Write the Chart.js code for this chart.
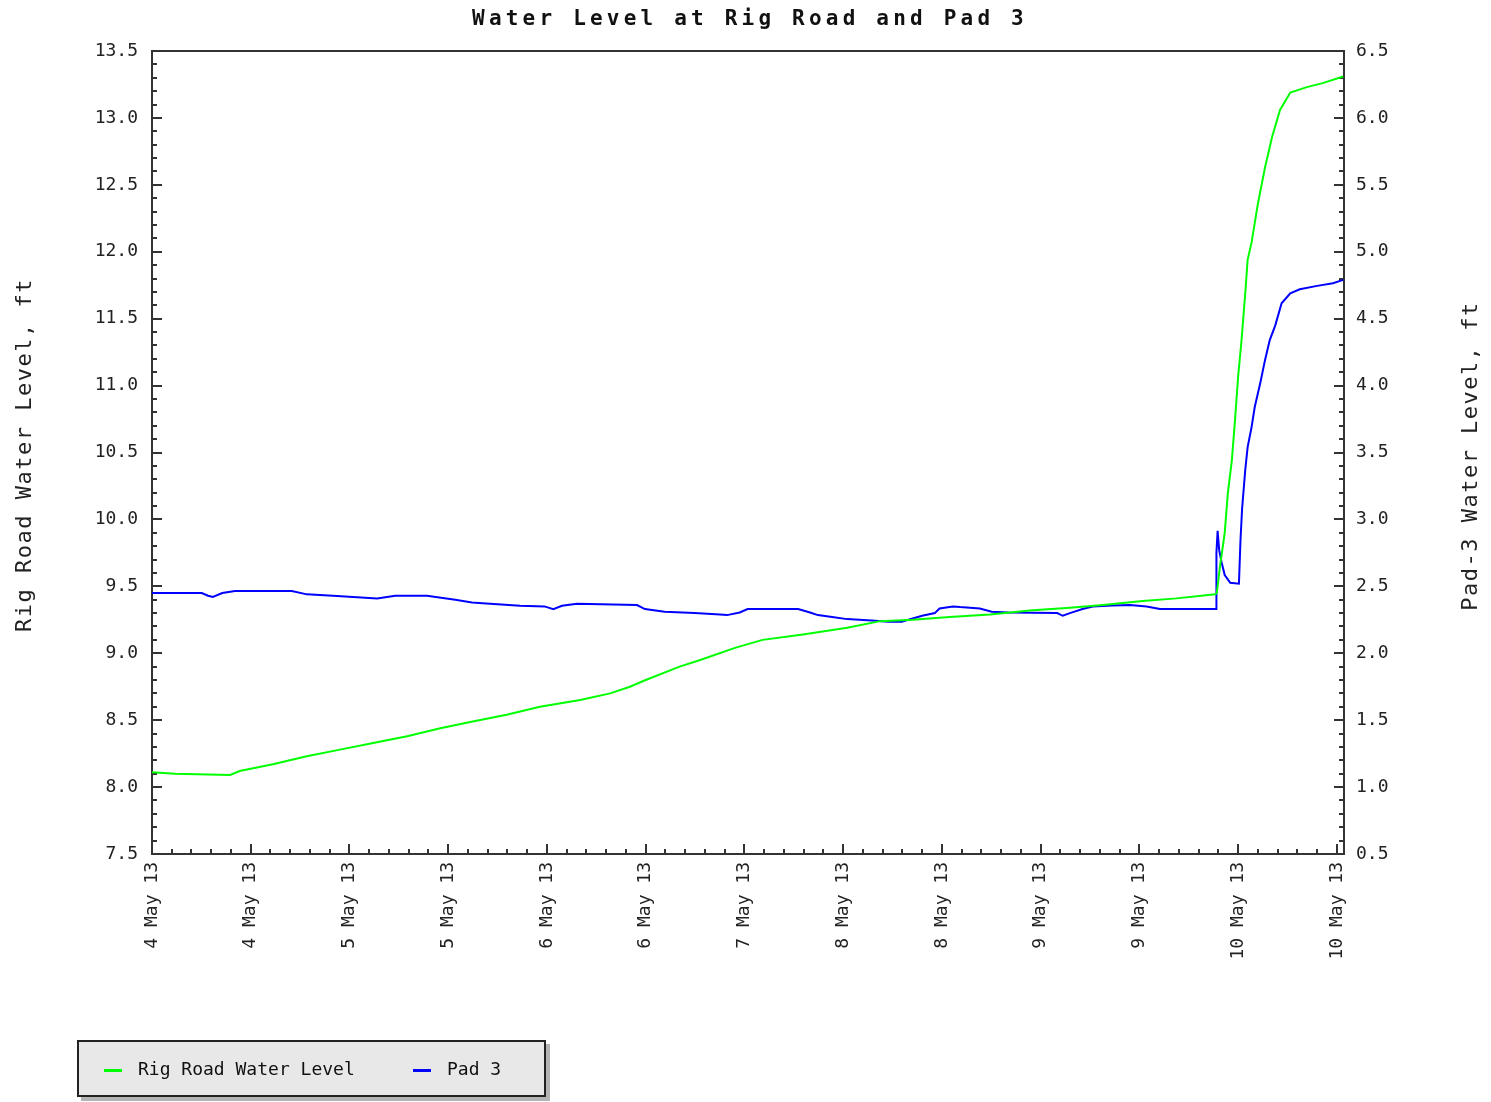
<!DOCTYPE html>
<html>
<head>
<meta charset="utf-8">
<title>Water Level at Rig Road and Pad 3</title>
<script src="https://cdn.jsdelivr.net/npm/chart.js@4.4.1/dist/chart.umd.min.js"></script>
<style>
body { margin: 0; background: #fff; }
#wrap { position: relative; width: 1491px; height: 1102px; }
#legend { position: absolute; left: 77px; top: 1040px; width: 465px; height: 53px; background: #e8e8e8;
  border: 2px solid #222; box-shadow: 4px 4px 0 #b4b4b4; font: 18px 'DejaVu Sans Mono', monospace; color: #111; }
#legend .item { position: absolute; top: 0; height: 53px; line-height: 53px; white-space: nowrap; }
#legend .sw { display: inline-block; width: 18px; height: 3px; vertical-align: middle; margin-right: 16px; }
</style>
</head>
<body>
<div id="wrap">
  <canvas id="chart" width="1491" height="1102"></canvas>
  <div id="legend"></div>
</div>
<script>
// hours after 4 May 13, 09:00
var tickHours = [0, 12.5, 25, 37.5, 50, 62.5, 75, 87.5, 100, 112.5, 125, 137.5, 150];
var tickLabels = ['4 May 13', '4 May 13', '5 May 13', '5 May 13', '6 May 13', '6 May 13', '7 May 13',
                  '8 May 13', '8 May 13', '9 May 13', '9 May 13', '10 May 13', '10 May 13'];

var chartTitle = 'Water Level at Rig Road and Pad 3';
var leftTitle = 'Rig Road Water Level, ft';
var rightTitle = 'Pad-3 Water Level, ft';
var seriesNames = ['Rig Road Water Level', 'Pad 3'];

// Rig Road (left axis)
var rigHours = [0, 2.9, 9.9, 11.1, 15.3, 19.6, 23.8, 28.0, 32.3, 36.5, 40.6, 44.9, 49.1, 54.2, 58.0, 60.5,
  62.5, 66.8, 69.4, 73.8, 77.3, 82.4, 88.0, 92.2, 96.3, 101.0, 106.1, 111.1, 116.2, 120.4, 125.4, 129.7,
  134.6, 134.8, 135.2, 135.8, 136.2, 136.7, 137.1, 137.5, 137.9, 138.4, 138.7, 139.2, 140.0, 140.9, 141.8,
  142.8, 144.1, 146.2, 148.2, 150.8];
var rigLevels = [8.11, 8.10, 8.09, 8.12, 8.17, 8.23, 8.28, 8.33, 8.38, 8.44, 8.49, 8.54, 8.60, 8.65, 8.70, 8.75,
  8.80, 8.90, 8.95, 9.04, 9.10, 9.14, 9.19, 9.24, 9.25, 9.27, 9.29, 9.32, 9.34, 9.36, 9.39, 9.41,
  9.44, 9.45, 9.65, 9.90, 10.20, 10.44, 10.74, 11.07, 11.32, 11.69, 11.94, 12.07, 12.36, 12.63, 12.86,
  13.06, 13.19, 13.23, 13.26, 13.31];

// Pad 3 (right axis)
var padHours = [0, 6.3, 7.1, 7.7, 8.9, 10.5, 17.7, 19.6, 22.9, 28.5, 30.8, 34.8, 38.4, 40.5, 42.8, 46.6,
  49.7, 50.8, 51.9, 53.8, 61.4, 62.4, 64.9, 68.7, 71.9, 72.8, 74.4, 75.4, 81.8, 83.3, 84.3, 86.1, 88.0,
  91.1, 93.2, 94.9, 96.3, 97.5, 99.1, 99.7, 101.4, 102.3, 104.8, 106.3, 108.4, 114.6, 115.3, 116.2, 117.8,
  119.1, 121.6, 123.8, 125.9, 127.6, 134.7, 134.75, 134.9, 135.1, 135.4, 135.8, 136.5, 137.6, 137.8, 138.0,
  138.4, 138.7, 139.2, 139.6, 140.3, 140.9, 141.5, 142.2, 143.0, 144.1, 145.3, 147.5, 149.5, 150.8];
var padLevels = [2.45, 2.45, 2.43, 2.42, 2.45, 2.465, 2.465, 2.44, 2.43, 2.41, 2.43, 2.43, 2.40, 2.38, 2.37, 2.355,
  2.35, 2.33, 2.355, 2.37, 2.36, 2.33, 2.31, 2.30, 2.29, 2.285, 2.305, 2.33, 2.33, 2.305, 2.285, 2.27, 2.255,
  2.245, 2.235, 2.235, 2.26, 2.28, 2.30, 2.335, 2.35, 2.345, 2.335, 2.31, 2.305, 2.30, 2.28, 2.30, 2.33,
  2.35, 2.357, 2.36, 2.35, 2.33, 2.33, 2.75, 2.915, 2.77, 2.68, 2.585, 2.527, 2.52, 2.85, 3.08,
  3.37, 3.54, 3.69, 3.84, 4.02, 4.19, 4.34, 4.45, 4.615, 4.69, 4.72, 4.745, 4.765, 4.79];

var colors = ['#00ff00', '#0000ff'];
var font = "'DejaVu Sans Mono', monospace";

function toPoints(hours, vals) {
  return hours.map(function (h, i) { return { x: h, y: vals[i] }; });
}

var frameAndText = {
  id: 'frameAndText',
  beforeDatasetsDraw: function (chart) {
    var ctx = chart.ctx, a = chart.chartArea;
    var x = chart.scales.x, y = chart.scales.y, y1 = chart.scales.y1;
    ctx.save();
    ctx.strokeStyle = '#333';
    ctx.lineWidth = 2;
    ctx.beginPath();
    var step = (tickHours[1] - tickHours[0]) / 5;
    for (var i = 0; i * step <= x.max; i++) {
      var px = Math.round(x.getPixelForValue(i * step));
      var len = i % 5 === 0 ? 10 : 5;
      ctx.moveTo(px, a.bottom);
      ctx.lineTo(px, a.bottom - len);
    }
    for (var j = 0; j <= 60; j++) {
      var l2 = j % 5 === 0 ? 10 : 5;
      var py = Math.round(y.getPixelForValue(y.min + j * 0.1));
      ctx.moveTo(a.left, py);
      ctx.lineTo(a.left + l2, py);
      var py1 = Math.round(y1.getPixelForValue(y1.min + j * 0.1));
      ctx.moveTo(a.right, py1);
      ctx.lineTo(a.right - l2, py1);
    }
    ctx.stroke();
    ctx.strokeRect(a.left, a.top, a.right - a.left, a.bottom - a.top);
    ctx.restore();
  },
  afterDraw: function (chart) {
    var ctx = chart.ctx;
    ctx.save();
    ctx.fillStyle = '#111';
    ctx.textAlign = 'center';
    ctx.font = 'bold 21px ' + font;
    ctx.letterSpacing = '4.2px';
    ctx.textBaseline = 'alphabetic';
    ctx.fillText(chartTitle, 750, 25);

    ctx.font = '22px ' + font;
    ctx.letterSpacing = '1.5px';
    ctx.textBaseline = 'middle';
    ctx.fillStyle = '#222';
    ctx.save();
    ctx.translate(25, 455);
    ctx.rotate(-Math.PI / 2);
    ctx.fillText(leftTitle, 0, 0);
    ctx.restore();
    ctx.save();
    ctx.translate(1471, 456);
    ctx.rotate(-Math.PI / 2);
    ctx.fillText(rightTitle, 0, 0);
    ctx.restore();
    ctx.restore();
  }
};

var ctx = document.getElementById('chart');
var chart = new Chart(ctx, {
  type: 'line',
  data: {
    datasets: [
      { label: seriesNames[0], data: toPoints(rigHours, rigLevels), yAxisID: 'y',
        borderColor: colors[0], backgroundColor: colors[0], borderWidth: 2, pointRadius: 0, tension: 0, fill: false },
      { label: seriesNames[1], data: toPoints(padHours, padLevels), yAxisID: 'y1',
        borderColor: colors[1], backgroundColor: colors[1], borderWidth: 2, pointRadius: 0, tension: 0, fill: false }
    ]
  },
  options: {
    responsive: false,
    animation: false,
    devicePixelRatio: 1,
    layout: { padding: { top: 51, left: 0, right: 0, bottom: 0 } },
    plugins: { legend: { display: false }, title: { display: false }, tooltip: { enabled: false } },
    scales: {
      x: {
        type: 'linear', min: 0, max: 150.9,
        grid: { display: false, drawTicks: false }, border: { display: false },
        afterBuildTicks: function (s) { s.ticks = tickHours.map(function (v) { return { value: v }; }); },
        afterFit: function (s) { s.height = 248; },
        ticks: {
          autoSkip: false, minRotation: 90, maxRotation: 90, padding: 8, color: '#222',
          font: { family: font, size: 18 },
          callback: function (v, i) { return tickLabels[i]; }
        }
      },
      y: {
        position: 'left', min: 7.5, max: 13.5,
        grid: { display: false, drawTicks: false }, border: { display: false },
        afterFit: function (s) { s.width = 152; },
        ticks: { stepSize: 0.5, padding: 14, color: '#222', font: { family: font, size: 18 },
          callback: function (v) { return v.toFixed(1); } }
      },
      y1: {
        position: 'right', min: 0.5, max: 6.5,
        grid: { display: false, drawTicks: false }, border: { display: false },
        afterFit: function (s) { s.width = 147; },
        ticks: { stepSize: 0.5, padding: 12, color: '#222', font: { family: font, size: 18 },
          callback: function (v) { return v.toFixed(1); } }
      }
    }
  },
  plugins: [frameAndText]
});

// legend box below the plot
var legendPos = [[25, 59], [334, 368]];
var html = '';
chart.data.datasets.forEach(function (ds, i) {
  html += '<span class="item" style="left:' + legendPos[i][0] + 'px"><span class="sw" style="background:' +
    ds.borderColor + '"></span>' + ds.label + '</span>';
});
document.getElementById('legend').innerHTML = html;
</script>
</body>
</html>
